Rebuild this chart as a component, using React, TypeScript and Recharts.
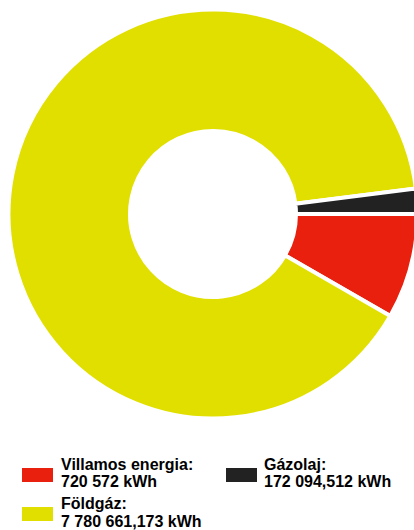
import React from "react";
import { PieChart, Pie, Cell, Legend } from "recharts";

const categories = ["Villamos energia", "Földgáz", "Gázolaj"];
const values = [720572, 7780661.173, 172094.512];
const valueLabels = ["720 572 kWh", "7 780 661,173 kWh", "172 094,512 kWh"];
const colors = ["#e8200d", "#e1df00", "#222222"];

const data = categories.map((name, i) => ({ name, value: values[i] }));

const FONT = '"Liberation Sans", Arial, sans-serif';

// legend placement: [rectLeft, rectTop, textLeft, textTop] relative to legend wrapper (top 440)
const legendPos: [number, number, number, number][] = [
  [22, 28, 61, 15.7],
  [22, 67.3, 61, 55],
  [226, 28, 264, 15.7],
];

function LegendContent() {
  return (
    <div style={{ position: "relative", width: 414, height: 90, fontFamily: FONT }}>
      {categories.map((c, i) => {
        const [rl, rt, tl, tt] = legendPos[i];
        return (
          <React.Fragment key={c}>
            <div
              style={{
                position: "absolute",
                left: rl,
                top: rt,
                width: 31,
                height: 13.5,
                background: colors[i],
              }}
            />
            <div
              style={{
                position: "absolute",
                left: tl,
                top: tt,
                fontSize: 16,
                fontWeight: 700,
                lineHeight: "17.5px",
                color: "#000",
                whiteSpace: "nowrap",
              }}
            >
              <div>{c}:</div>
              <div>{valueLabels[i]}</div>
            </div>
          </React.Fragment>
        );
      })}
    </div>
  );
}

export default function App() {
  return (
    <div style={{ position: "fixed", left: 0, top: 0, width: 414, height: 530, background: "#fff" }}>
      <PieChart width={414} height={530} margin={{ top: 0, right: 0, bottom: 0, left: 0 }}>
        <Pie
          data={data}
          dataKey="value"
          nameKey="name"
          cx={213}
          cy={214}
          innerRadius={83}
          outerRadius={204.5}
          startAngle={0}
          endAngle={-360}
          stroke="#ffffff"
          strokeWidth={4}
          isAnimationActive={false}
        >
          {data.map((d, i) => (
            <Cell key={d.name} fill={colors[i]} />
          ))}
        </Pie>
        <Legend
          content={<LegendContent />}
          wrapperStyle={{ position: "absolute", left: 0, top: 440, width: 414, height: 90, bottom: "auto" }}
        />
      </PieChart>
    </div>
  );
}
